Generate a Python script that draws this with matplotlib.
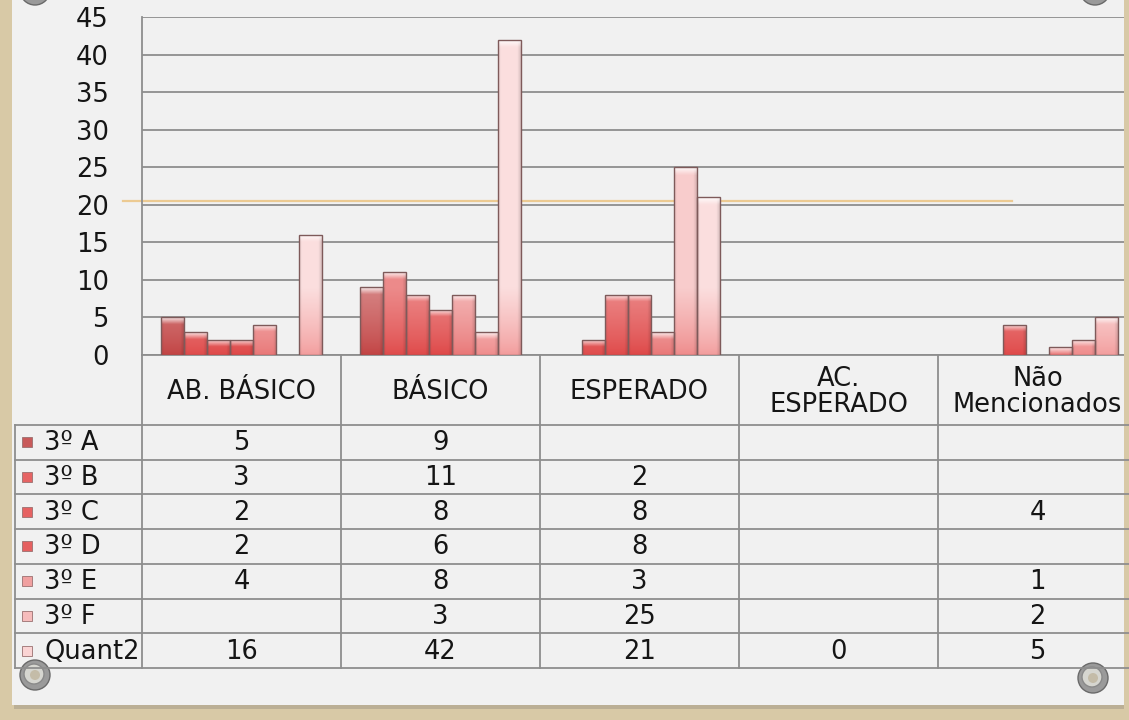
import numpy as np
import matplotlib.pyplot as plt
from matplotlib.patches import Rectangle, Circle
from matplotlib.colors import to_rgb

W, H = 1129, 720

# ---------------------------------------------------------------------------
# Dados (None = célula vazia na tabela)
# ---------------------------------------------------------------------------
categorias = ["AB. BÁSICO", "BÁSICO", "ESPERADO", "AC.\nESPERADO", "Não\nMencionados"]
nomes = ["3º A", "3º B", "3º C", "3º D", "3º E", "3º F", "Quant2"]

turma_a = [5, 9, None, None, None]
turma_b = [3, 11, 2, None, None]
turma_c = [2, 8, 8, None, 4]
turma_d = [2, 6, 8, None, None]
turma_e = [4, 8, 3, None, 1]
turma_f = [None, 3, 25, None, 2]
quant2 = [16, 42, 21, 0, 5]

series = [turma_a, turma_b, turma_c, turma_d, turma_e, turma_f, quant2]
cores = ["#c85a5a", "#e66464", "#e66262", "#e56060", "#f0a0a0", "#f6bcbc", "#fad4d4"]
yticks = list(range(0, 50, 5))

plt.rcParams["font.family"] = "DejaVu Sans"
FS = 18.5
TXT = "#151515"

fig = plt.figure(figsize=(W / 100, H / 100), dpi=100)
fig.patch.set_facecolor("#d8c9a6")

# ---------------------------------------------------------------------------
# fundo: painel cinza com parafusos
# ---------------------------------------------------------------------------
axb = fig.add_axes([0, 0, 1, 1], zorder=-1)
axb.set_xlim(0, W)
axb.set_ylim(H, 0)
axb.axis("off")
axb.add_patch(Rectangle((14, -5), 1112, 714, fc="#a89f8a", ec="none", alpha=0.6))
axb.add_patch(Rectangle((12, -5), 1112, 710, fc="#f1f1f1", ec="none"))


def parafuso(x, y):
    axb.add_patch(Circle((x, y), 15, fc="#9a9a9a", ec="#6a6a6a", lw=1))
    axb.add_patch(Circle((x - 1, y - 1), 10, fc="#d6d6d0", ec="#8a8a8a", lw=1))
    axb.add_patch(Circle((x, y), 5, fc="#c4bca8", ec="none"))


for px, py in [(35, 675), (1093, 678), (35, -10), (1095, -10)]:
    parafuso(px, py)

# linha decorativa laranja
axb.plot([123, 1012], [201, 201], color="#ecca92", lw=1.6)

# ---------------------------------------------------------------------------
# gráfico de barras
# ---------------------------------------------------------------------------
ax = fig.add_axes([142 / W, 1 - 355 / H, 995 / W, 338 / H], zorder=1)
ax.patch.set_alpha(0)
px_por_un = 338 / 45


def barra(x0, w, h, cor):
    base = np.array(to_rgb(cor))
    escuro = base * np.array([0.97, 0.74, 0.74])
    claro = base + (1 - base) * 0.25
    ny, nx = 100, 16
    yy = np.linspace(h, 0, ny)
    frac = np.clip(yy / 9, 0, 1) ** 0.8
    col = escuro[None, :] * (1 - frac[:, None]) + claro[None, :] * frac[:, None]
    xs = np.linspace(0, 1, nx)
    sombra = 1 - 0.12 * np.clip((xs - 0.86) / 0.14, 0, 1) - 0.06 * np.clip((0.12 - xs) / 0.12, 0, 1)
    img = col[:, None, :] * sombra[None, :, None]
    d_px = (h - yy) * px_por_un
    tampa = np.clip(1 - d_px / 7, 0, 1) * 0.85
    img = img * (1 - tampa)[:, None, None] + tampa[:, None, None]
    img = np.clip(img, 0, 1)
    im = ax.imshow(img, extent=(x0, x0 + w, 0, h), origin="upper", aspect="auto",
                   interpolation="bilinear", zorder=3)
    ret = Rectangle((x0, 0), w, h, fill=False, ec="#7e5a5a", lw=1.0, zorder=4)
    ax.add_patch(ret)
    im.set_clip_path(ret)


bw = 23 / 199
for j, (vals, cor) in enumerate(zip(series, cores)):
    for i, v in enumerate(vals):
        if v is None or v == 0:
            continue
        x0 = i + (j - 3) * bw - bw / 2
        barra(x0, bw, v, cor)

ax.set_xlim(-0.5, 4.5)
ax.set_ylim(0, 45)
ax.set_yticks(yticks)
ax.set_xticks([])
ax.yaxis.grid(True, color="#8e8e8e", lw=1.3)
ax.set_axisbelow(True)
ax.tick_params(axis="y", length=0, pad=24, labelsize=FS, labelcolor=TXT)
for s in ["top", "right"]:
    ax.spines[s].set_visible(False)
for s in ["left", "bottom"]:
    ax.spines[s].set_color("#8e8e8e")
    ax.spines[s].set_linewidth(1.3)

# ---------------------------------------------------------------------------
# tabela de dados
# ---------------------------------------------------------------------------
axt = fig.add_axes([0, 0, 1, 1], zorder=5)
axt.set_xlim(0, W)
axt.set_ylim(H, 0)
axt.axis("off")

x_col = [142 + 199 * k for k in range(len(categorias) + 1)]
y_top, alt = 425, 34.7
y_lin = [y_top + alt * k for k in range(len(nomes) + 1)]
cor_linha = "#8e8e8e"

for x in x_col:
    axt.plot([x, x], [355, y_lin[-1]], color=cor_linha, lw=1.3)
axt.plot([15, 15], [y_top, y_lin[-1]], color=cor_linha, lw=1.3)
for y in y_lin:
    axt.plot([15, x_col[-1]], [y, y], color=cor_linha, lw=1.3)

for i, cat in enumerate(categorias):
    xc = (x_col[i] + x_col[i + 1]) / 2
    axt.text(xc, 392, cat, ha="center", va="center", fontsize=FS, color=TXT,
             linespacing=1.05)

for j, (nome, vals, cor) in enumerate(zip(nomes, series, cores)):
    yc = y_top + alt * (j + 0.5)
    axt.add_patch(Rectangle((22, yc - 5), 10, 10, fc=cor, ec="#9a7070", lw=0.6))
    axt.text(44, yc + 1, nome, ha="left", va="center", fontsize=FS, color=TXT)
    for i, v in enumerate(vals):
        if v is None:
            continue
        xc = (x_col[i] + x_col[i + 1]) / 2
        axt.text(xc, yc + 1, str(v), ha="center", va="center", fontsize=FS, color=TXT)

# borda direita do painel
axt.add_patch(Rectangle((1124, 0), 10, H, fc="#d8c9a6", ec="none"))

fig.savefig("out.png", dpi=100)
